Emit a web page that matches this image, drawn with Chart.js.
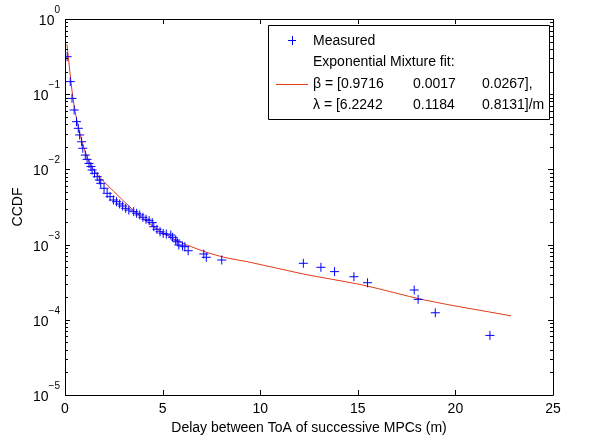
<!DOCTYPE html>
<html>
<head>
<meta charset="utf-8">
<script src="https://cdn.jsdelivr.net/npm/chart.js@4.4.1/dist/chart.umd.min.js"></script>
<style>
html,body{margin:0;padding:0;background:#fff;}
canvas{display:block;}
</style>
</head>
<body>
<canvas id="c" width="596" height="441"></canvas>
<script>
// ---- data ----
const measuredX = [0.11,0.27,0.36,0.47,0.59,0.68,0.75,0.85,0.91,1.04,1.13,1.23,1.33,1.39,1.51,1.65,1.76,1.83,2.00,2.16,2.31,
  2.48,2.64,2.80,2.95,3.11,3.27,3.52,3.67,3.83,3.99,4.15,4.31,4.47,4.55,4.71,4.87,5.03,5.19,5.42,5.51,5.67,5.75,5.83,6.02,6.14,6.31,7.11,7.24,8.03,
  12.21,13.11,13.81,14.80,15.50,17.89,18.09,18.97,21.77];
const measuredY = [0.315,0.147,0.088,0.0616,0.0431,0.0352,0.0287,0.0233,0.0191,0.0155,0.0136,0.0120,0.0109,0.00982,0.00887,0.0080,0.00723,0.00653,0.00561,0.00481,0.00434,
  0.00392,0.00372,0.00347,0.00326,0.00304,0.00288,0.00274,0.00261,0.00248,0.00231,0.00217,0.00208,0.00196,0.00173,0.00160,0.00148,0.00141,0.00138,0.00134,0.00125,0.00115,0.00109,0.000988,0.000958,0.000938,0.000829,0.000750,0.000678,0.000624,
  0.000564,0.000499,0.000437,0.000374,0.000311,0.000249,0.000187,0.000124,0.000062];
const fitX = [0.10,0.40,0.72,1.20,1.60,2.00,2.95,3.59,4.55,5.51,6.47,7.42,8.39,9.34,12.21,15.25,18.44,22.85];
const fitY = [0.46,0.0927,0.0334,0.0133,0.00887,0.00686,0.00392,0.00274,0.00173,0.00121,0.000938,0.000765,0.000657,0.000593,0.000406,0.000290,0.000183,0.000113];
const xTicks = [0,5,10,15,20,25];
const yTickExps = [0,-1,-2,-3,-4,-5];
const legendMeasured = 'Measured';
const legendFitLines = [
  ['Exponential Mixture fit:'],
  ['\u03B2 = [0.9716','0.0017','0.0267],'],
  ['\u03BB = [6.2242','0.1184','0.8131]/m']
];
const xTitle = 'Delay between ToA of successive MPCs (m)';
const yTitle = 'CCDF';

const FONT = '"Liberation Sans", Arial, Helvetica, sans-serif';

const matlabAxes = {
  id: 'matlabAxes',
  afterDraw(chart) {
    const ctx = chart.ctx, a = chart.chartArea;
    const xs = chart.scales.x, ys = chart.scales.y;
    ctx.save();
    ctx.strokeStyle = '#000';
    ctx.lineWidth = 1;
    ctx.beginPath();
    ctx.rect(Math.round(a.left)+0.5, Math.round(a.top)+0.5, Math.round(a.right-a.left), Math.round(a.bottom-a.top));
    ctx.stroke();
    // x ticks
    ctx.beginPath();
    xTicks.forEach(v => {
      const p = Math.round(xs.getPixelForValue(v)) + 0.5;
      ctx.moveTo(p, a.bottom); ctx.lineTo(p, a.bottom - 5);
      ctx.moveTo(p, a.top); ctx.lineTo(p, a.top + 5);
    });
    // y ticks (major and minor)
    yTickExps.forEach(k => {
      const base = Math.pow(10, k);
      const p = Math.round(ys.getPixelForValue(base)) + 0.5;
      ctx.moveTo(a.left, p); ctx.lineTo(a.left + 5, p);
      ctx.moveTo(a.right, p); ctx.lineTo(a.right - 5, p);
      if (k < 0) {
        for (let m = 2; m <= 9; m++) {
          const q = Math.round(ys.getPixelForValue(m * base)) + 0.5;
          ctx.moveTo(a.left, q); ctx.lineTo(a.left + 3, q);
          ctx.moveTo(a.right, q); ctx.lineTo(a.right - 3, q);
        }
      }
    });
    ctx.stroke();
    // y tick labels with superscripts
    ctx.fillStyle = '#000';
    ctx.textBaseline = 'alphabetic';
    yTickExps.forEach(k => {
      const p = ys.getPixelForValue(Math.pow(10, k));
      const expStr = (k < 0 ? '\u2212' : '') + Math.abs(k);
      ctx.font = '10px ' + FONT;
      const ew = ctx.measureText(expStr).width;
      const xr = a.left - 5;
      ctx.textAlign = 'left';
      ctx.fillText(expStr, xr - ew, p - 6);
      ctx.font = '14px ' + FONT;
      ctx.textAlign = 'right';
      ctx.fillText('10', xr - ew, p + 6);
    });
    // legend
    const L = 268, T = 25, R = 549, B = 119;
    ctx.fillStyle = '#fff';
    ctx.fillRect(L, T, R - L, B - T);
    ctx.strokeStyle = '#000';
    ctx.beginPath();
    ctx.rect(L + 0.5, T + 0.5, R - L, B - T);
    ctx.stroke();
    // marker
    ctx.strokeStyle = '#0000ff';
    ctx.beginPath();
    ctx.moveTo(288, 40.5); ctx.lineTo(296, 40.5);
    ctx.moveTo(292.5, 36); ctx.lineTo(292.5, 45);
    ctx.stroke();
    // fit line sample
    ctx.strokeStyle = '#e33a18';
    ctx.beginPath();
    ctx.moveTo(276, 84.5); ctx.lineTo(308, 84.5);
    ctx.stroke();
    ctx.fillStyle = '#000';
    ctx.font = '14px ' + FONT;
    ctx.textAlign = 'left';
    ctx.textBaseline = 'middle';
    const tx = 313, cols = [313, 413, 482];
    ctx.fillText(legendMeasured, tx, 41);
    const rows = [62.5, 84, 105.5];
    legendFitLines.forEach((parts, i) => {
      parts.forEach((s, j) => ctx.fillText(s, cols[j], rows[i]));
    });
    ctx.restore();
  }
};

new Chart(document.getElementById('c'), {
  data: {
    datasets: [
      {
        type: 'line',
        label: 'fit',
        data: fitX.map((x, i) => ({x, y: fitY[i]})),
        borderColor: '#e33a18',
        borderWidth: 1,
        pointRadius: 0,
        fill: false,
        cubicInterpolationMode: 'monotone',
        order: 2
      },
      {
        type: 'scatter',
        label: 'Measured',
        data: measuredX.map((x, i) => ({x, y: measuredY[i]})),
        pointStyle: 'cross',
        pointRadius: 4.5,
        pointHoverRadius: 4.5,
        borderColor: '#0000ff',
        backgroundColor: '#0000ff',
        borderWidth: 1,
        order: 1
      }
    ]
  },
  options: {
    responsive: false,
    animation: false,
    devicePixelRatio: 1,
    layout: { padding: { top: 19, right: 43, left: 0, bottom: 0 } },
    plugins: { legend: { display: false }, tooltip: { enabled: false } },
    scales: {
      x: {
        type: 'linear', min: 0, max: 25,
        afterBuildTicks(s) { s.ticks = xTicks.map(v => ({value: v})); },
        grid: { display: false, drawTicks: false },
        border: { display: false },
        ticks: { color: '#000', font: { family: FONT, size: 14 }, padding: 6, maxRotation: 0 },
        title: { display: true, text: xTitle, color: '#000', font: { family: FONT, size: 14 }, padding: { top: 0, bottom: 4 } },
        afterFit(s) { s.height = 46; }
      },
      y: {
        type: 'logarithmic', min: 1e-5, max: 1,
        grid: { display: false, drawTicks: false },
        border: { display: false },
        ticks: { display: false },
        title: { display: true, text: yTitle, color: '#000', font: { family: FONT, size: 14 }, padding: { top: 10, bottom: 0 } },
        afterFit(s) { s.width = 65; }
      }
    }
  },
  plugins: [matlabAxes]
});
</script>
</body>
</html>
